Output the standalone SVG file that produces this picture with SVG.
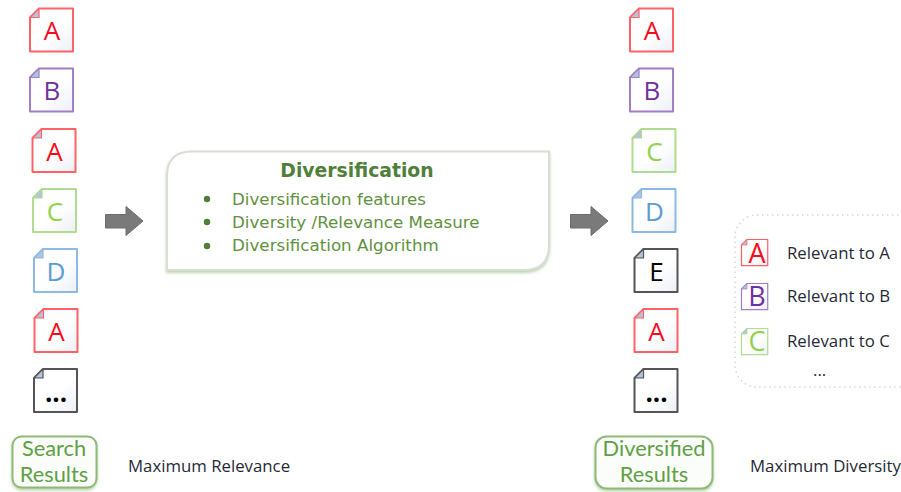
<svg xmlns="http://www.w3.org/2000/svg" width="901" height="492" viewBox="0 0 901 492">
<style>
text{font-family:"Open Sans","Noto Sans","Liberation Sans",sans-serif}
.l{font-size:26px;text-anchor:middle}
.doc{fill:url(#pg);stroke:currentColor;stroke-width:2;stroke-linejoin:round}
.fold{fill:#b4c3dc;stroke:currentColor;stroke-width:1.200;stroke-linejoin:round}
.r{color:#ff6266}.rt{fill:#f50a1e}
.p{color:#a07fc4}.pt{fill:#7030a0}
.g{color:#aedc90}.gt{fill:#92d050}
.b{color:#8dbae4}.bt{fill:#5b9bd5}
.k{color:#555}.kt{fill:#000}
.cap{font-size:16.800px;fill:#1f2a36}
.tag{fill:#fbfdfa;stroke:#8fb978;stroke-width:2}
.tagt{font-family:Lato,"Open Sans",sans-serif;font-size:21.800px;fill:#5f9f45;text-anchor:middle}
.head{font-family:"DejaVu Sans","Liberation Sans",sans-serif;font-size:18.800px;font-weight:bold;fill:#4f7f38;text-anchor:middle}
.item{font-family:"DejaVu Sans","Liberation Sans",sans-serif;font-size:16.700px;fill:#5f9140}
.arrow{fill:#7a7a7a;stroke:#6c6c6c;stroke-width:1}
</style>
<defs>
<linearGradient id="pg" x1="0" y1="0" x2="1" y2="1"><stop offset="0.55" stop-color="#fff"/><stop offset="1" stop-color="#eceff6"/></linearGradient>
<filter id="sh" x="-5%" y="-5%" width="110%" height="115%"><feDropShadow dx="0" dy="2" stdDeviation="1.500" flood-color="#8fb978" flood-opacity="0.6"/></filter>
<g id="doc"><path class="doc" d="M9,0H43V43H0V9Z"/><path class="fold" d="M9,0V9H0Z"/></g>
</defs>
<g id="connectors">
<path class="arrow" d="M105.500,214.500H126V206.500L143,221L126,235.500V228H105.500Z"/>
<path class="arrow" d="M570.500,214.500H591V206.500L608,221L591,235.500V228H570.500Z"/>
</g>
<g id="left-a1" class="r"><use href="#doc" x="30" y="8.500"/><text class="l rt" x="52" y="40">A</text></g>
<g id="left-b" class="p"><use href="#doc" x="30" y="68.500"/><text class="l pt" x="52" y="100">B</text></g>
<g id="left-a2" class="r"><use href="#doc" x="32.500" y="129"/><text class="l rt" x="54.500" y="161">A</text></g>
<g id="left-c" class="g"><use href="#doc" x="33" y="189"/><text class="l gt" x="55" y="221">C</text></g>
<g id="left-d" class="b"><use href="#doc" x="34" y="249"/><text class="l bt" x="56" y="281">D</text></g>
<g id="left-a3" class="r"><use href="#doc" x="34.500" y="309"/><text class="l rt" x="56.500" y="341">A</text></g>
<g id="left-more" class="k"><use href="#doc" x="34" y="369"/><text class="l kt" x="56" y="402" font-weight="bold">...</text></g>
<g id="search-results"><rect class="tag" x="12.500" y="436.500" width="84" height="51" rx="9" filter="url(#sh)"/><text class="tagt" x="54" y="456">Search</text><text class="tagt" x="54" y="482">Results</text></g>
<text id="max-relevance" class="cap" x="128" y="472">Maximum Relevance</text>
<g id="diversification">
<path d="M192,151.500H549V245Q549,270 524,270H167V176Q167,151.500 192,151.500Z" fill="#fff" stroke="#d9ddd5" stroke-width="2" filter="url(#sh)"/>
<text class="head" x="357" y="177">Diversification</text>
<circle cx="207" cy="199" r="3.200" fill="#4f7f38"/><text class="item" x="232" y="205">Diversification features</text>
<circle cx="207" cy="222" r="3.200" fill="#4f7f38"/><text class="item" x="232" y="228">Diversity /Relevance Measure</text>
<circle cx="207" cy="246" r="3.200" fill="#4f7f38"/><text class="item" x="232" y="251">Diversification Algorithm</text>
</g>
<g id="right-a1" class="r"><use href="#doc" x="630" y="8.500"/><text class="l rt" x="652" y="40">A</text></g>
<g id="right-b" class="p"><use href="#doc" x="630" y="68.500"/><text class="l pt" x="652" y="100">B</text></g>
<g id="right-c" class="g"><use href="#doc" x="632.500" y="129"/><text class="l gt" x="654.500" y="161">C</text></g>
<g id="right-d" class="b"><use href="#doc" x="632.500" y="189"/><text class="l bt" x="654.500" y="221">D</text></g>
<g id="right-e" class="k"><use href="#doc" x="634.500" y="249"/><text class="l kt" x="656.500" y="281">E</text></g>
<g id="right-a2" class="r"><use href="#doc" x="634.500" y="309"/><text class="l rt" x="656.500" y="341">A</text></g>
<g id="right-more" class="k"><use href="#doc" x="634.500" y="369"/><text class="l kt" x="656.500" y="402" font-weight="bold">...</text></g>
<g id="diversified-results"><rect class="tag" x="595.500" y="436.500" width="117" height="52" rx="11" filter="url(#sh)"/><text class="tagt" x="654" y="456">Diversified</text><text class="tagt" x="654" y="482">Results</text></g>
<text id="max-diversity" class="cap" x="750" y="472">Maximum Diversity</text>
<g id="legend">
<rect x="735" y="215" width="190" height="172" rx="22" fill="none" stroke="#d5d8d5" stroke-width="1.500" stroke-dasharray="1.500 3.500"/>
<g class="r"><use href="#doc" transform="translate(741.500 239.500) scale(.61)"/><text class="l rt" x="757" y="263" style="font-size:27px">A</text></g>
<text class="cap" x="787" y="259">Relevant to A</text>
<g class="p"><use href="#doc" transform="translate(741.500 283.500) scale(.61)"/><text class="l pt" x="757" y="306" style="font-size:27px">B</text></g>
<text class="cap" x="787" y="302">Relevant to B</text>
<g class="g"><use href="#doc" transform="translate(741.500 328.500) scale(.61)"/><text class="l gt" x="757" y="351" style="font-size:27px">C</text></g>
<text class="cap" x="787" y="347">Relevant to C</text>
<text class="cap" x="813" y="376">...</text>
</g>
</svg>
